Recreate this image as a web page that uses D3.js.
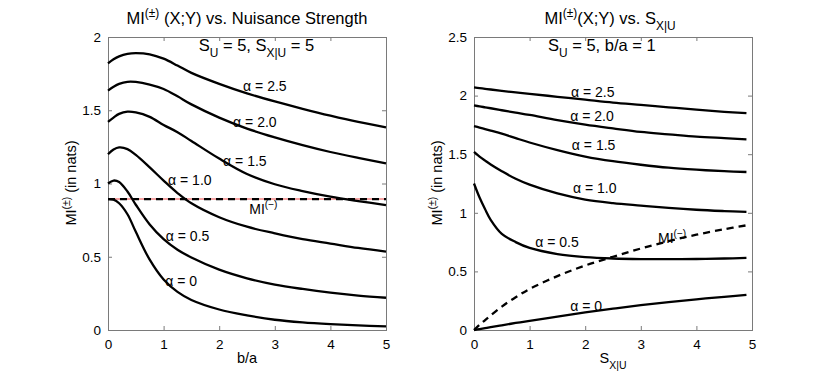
<!DOCTYPE html>
<html>
<head>
<meta charset="utf-8">
<script src="https://cdn.jsdelivr.net/npm/d3@7"></script>
<style>
  body { margin: 0; background: #fff; }
  text { font-family: "Liberation Sans", Arial, Helvetica, sans-serif; fill: #000; }
</style>
</head>
<body>
<div id="chart"></div>
<script>
// ---- left panel: MI(+-) against b/a (S_U = 5, S_X|U = 5)
var baRatio = [0, 0.1, 0.2, 0.35, 0.5, 0.75, 1, 1.25, 1.5, 2, 2.5, 3, 3.5, 4, 4.5, 5];
var leftA25 = [1.82, 1.848, 1.868, 1.885, 1.89, 1.882, 1.852, 1.805, 1.755, 1.68, 1.615, 1.56, 1.51, 1.463, 1.42, 1.383];
var leftA20 = [1.634, 1.66, 1.68, 1.694, 1.693, 1.675, 1.645, 1.595, 1.54, 1.45, 1.375, 1.315, 1.262, 1.215, 1.175, 1.138];
var leftA15 = [1.42, 1.45, 1.475, 1.49, 1.485, 1.455, 1.40, 1.35, 1.29, 1.17, 1.065, 0.995, 0.948, 0.91, 0.88, 0.853];
var leftA10 = [1.20, 1.232, 1.246, 1.235, 1.195, 1.11, 1.02, 0.935, 0.865, 0.77, 0.705, 0.66, 0.62, 0.59, 0.56, 0.535];
var leftA05 = [1.0, 1.02, 1.01, 0.945, 0.855, 0.72, 0.62, 0.548, 0.495, 0.412, 0.353, 0.31, 0.28, 0.255, 0.235, 0.22];
var leftA00 = [0.894, 0.89, 0.865, 0.79, 0.67, 0.48, 0.345, 0.26, 0.205, 0.14, 0.1, 0.07, 0.052, 0.04, 0.031, 0.025];
var leftMinusX = [0, 5];
var leftMinus = [0.894, 0.894];

// ---- right panel: MI(+-) against S_X|U (S_U = 5, b/a = 1)
var sxu = [0, 0.1, 0.2, 0.3, 0.5, 0.75, 1, 1.5, 2, 2.5, 3, 3.5, 4, 4.5, 4.9];
var rightA25 = [2.07, 2.064, 2.058, 2.052, 2.04, 2.027, 2.015, 1.99, 1.965, 1.94, 1.92, 1.9, 1.88, 1.862, 1.85];
var rightA20 = [1.917, 1.908, 1.9, 1.892, 1.875, 1.855, 1.835, 1.79, 1.752, 1.72, 1.69, 1.67, 1.65, 1.637, 1.627];
var rightA15 = [1.74, 1.727, 1.714, 1.701, 1.675, 1.637, 1.6, 1.535, 1.48, 1.44, 1.41, 1.385, 1.368, 1.355, 1.348];
var rightA10 = [1.52, 1.48, 1.445, 1.412, 1.355, 1.29, 1.24, 1.165, 1.113, 1.083, 1.062, 1.042, 1.026, 1.015, 1.008];
var rightA05 = [1.25, 1.13, 1.03, 0.94, 0.82, 0.75, 0.70, 0.648, 0.622, 0.61, 0.605, 0.604, 0.606, 0.61, 0.615];
var rightA00 = [0, 0.008, 0.016, 0.024, 0.04, 0.06, 0.078, 0.115, 0.15, 0.182, 0.212, 0.238, 0.262, 0.283, 0.30];
var rightMinus = [0, 0.045, 0.085, 0.125, 0.2, 0.28, 0.35, 0.46, 0.55, 0.625, 0.695, 0.758, 0.813, 0.86, 0.893];

// tick values
var xTicks = [0, 1, 2, 3, 4, 5];
var leftYTicks = [0, 0.5, 1, 1.5, 2];
var rightYTicks = [0, 0.5, 1, 1.5, 2, 2.5];

var W = 830, H = 372;
var svg = d3.select("#chart").append("svg")
    .attr("width", W)
    .attr("height", H);

// write text with super / subscripts, parts = [{t, sup|sub}]
function rich(sel, parts, size) {
  var shift = 0;
  parts.forEach(function(p) {
    var target = p.sup ? -size * 0.42 : (p.sub ? size * 0.38 : 0);
    sel.append("tspan")
        .attr("dy", target - shift)
        .attr("font-size", (p.sup || p.sub) ? size * 0.72 : size)
        .text(p.t);
    shift = target;
  });
  return sel;
}

function drawPanel(opt) {
  var x = d3.scaleLinear().domain([0, 5]).range(opt.xr);
  var y = d3.scaleLinear().domain([0, opt.ymax]).range([330, 37]);
  var g = svg.append("g");

  // axes, ticks pointing inside on all four sides
  var fmt = d3.format("~g");
  g.append("g").attr("transform", "translate(0,330)")
      .call(d3.axisBottom(x).tickValues(xTicks).tickSize(-4).tickPadding(9).tickFormat(fmt));
  g.append("g").attr("transform", "translate(0,37)")
      .call(d3.axisTop(x).tickValues(xTicks).tickSize(-4).tickFormat(""));
  g.append("g").attr("transform", "translate(" + opt.xr[0] + ",0)")
      .call(d3.axisLeft(y).tickValues(opt.yTicks).tickSize(-4).tickPadding(7).tickFormat(fmt));
  g.append("g").attr("transform", "translate(" + opt.xr[1] + ",0)")
      .call(d3.axisRight(y).tickValues(opt.yTicks).tickSize(-4).tickFormat(""));
  g.selectAll(".domain").remove();
  g.selectAll(".tick line").attr("stroke", "#7a7a7a");
  g.selectAll(".tick text").attr("font-size", 13.5).attr("fill", "#000")
      .style("font-family", "'Liberation Sans', Arial, sans-serif");

  g.append("rect")
      .attr("x", x(0) + 0.5).attr("y", y(opt.ymax) + 0.5)
      .attr("width", x(5) - x(0)).attr("height", y(0) - y(opt.ymax))
      .attr("fill", "none").attr("stroke", "#7a7a7a").attr("stroke-width", 1);

  var line = d3.line()
      .x(function(d) { return x(d[0]); })
      .y(function(d) { return y(d[1]); })
      .curve(d3.curveCatmullRom.alpha(0.5));

  if (opt.pink) {
    g.append("path")
        .datum(d3.zip(opt.minusX, opt.minus))
        .attr("d", line).attr("fill", "none")
        .attr("stroke", "#f4a3a3").attr("stroke-width", 2);
  }
  opt.series.forEach(function(s) {
    g.append("path")
        .datum(d3.zip(opt.xs, s))
        .attr("d", line).attr("fill", "none")
        .attr("stroke", "#000").attr("stroke-width", 2.3);
  });
  g.append("path")
      .datum(d3.zip(opt.minusX, opt.minus))
      .attr("d", line).attr("fill", "none")
      .attr("stroke", "#000").attr("stroke-width", 2.3)
      .attr("stroke-dasharray", "7,5");

  // curve labels
  opt.labels.forEach(function(l) {
    var t = g.append("text").attr("x", x(l[0])).attr("y", y(l[1])).attr("font-size", 14);
    if (l[2] === "minus") rich(t, [{t: "MI"}, {t: "(\u2212)", sup: true}], 14);
    else t.text("\u03b1 = " + l[2]);
  });

  // parameter note
  rich(g.append("text").attr("x", x(opt.note[0])).attr("y", y(opt.note[1]))
      .attr("text-anchor", "middle").attr("font-size", 16.5), opt.noteParts, 16.5);

  // title
  rich(g.append("text").attr("x", (opt.xr[0] + opt.xr[1]) / 2 + opt.titleDx).attr("y", 24)
      .attr("text-anchor", "middle").attr("font-size", 16.5), opt.titleParts, 16.5);

  // axis labels
  rich(g.append("text").attr("x", (opt.xr[0] + opt.xr[1]) / 2).attr("y", 363)
      .attr("text-anchor", "middle").attr("font-size", 14.5), opt.xLabel, 14.5);
  rich(g.append("text")
      .attr("transform", "translate(" + (opt.xr[0] - 32) + ",183) rotate(-90)")
      .attr("text-anchor", "middle").attr("font-size", 14.5),
      [{t: "MI"}, {t: "(\u00b1)", sup: true}, {t: " (in nats)"}], 14.5);
}

drawPanel({
  xr: [108, 386], ymax: 2, yTicks: leftYTicks,
  xs: baRatio,
  series: [leftA25, leftA20, leftA15, leftA10, leftA05, leftA00],
  minusX: leftMinusX, minus: leftMinus, pink: true,
  labels: [[2.43, 1.63, "2.5"], [2.25, 1.386, "2.0"], [2.07, 1.12, "1.5"],
           [1.08, 0.99, "1.0"], [1.04, 0.607, "0.5"], [1.03, 0.30, "0"], [2.54, 0.79, "minus"]],
  note: [2.67, 1.905],
  noteParts: [{t: "S"}, {t: "U", sub: true}, {t: " = 5, S"}, {t: "X|U", sub: true}, {t: " = 5"}],
  titleDx: 0,
  titleParts: [{t: "MI"}, {t: "(\u00b1)", sup: true}, {t: " (X;Y) vs. Nuisance Strength"}],
  xLabel: [{t: "b/a"}]
});

drawPanel({
  xr: [474, 752], ymax: 2.5, yTicks: rightYTicks,
  xs: sxu,
  series: [rightA25, rightA20, rightA15, rightA10, rightA05, rightA00],
  minusX: sxu, minus: rightMinus, pink: false,
  labels: [[1.745, 1.99, "2.5"], [1.73, 1.78, "2.0"], [1.76, 1.536, "1.5"],
           [1.78, 1.17, "1.0"], [1.1, 0.708, "0.5"], [1.73, 0.162, "0"], [3.31, 0.745, "minus"]],
  note: [2.3, 2.38],
  noteParts: [{t: "S"}, {t: "U", sub: true}, {t: " = 5, b/a = 1"}],
  titleDx: -3,
  titleParts: [{t: "MI"}, {t: "(\u00b1)", sup: true}, {t: "(X;Y) vs. S"}, {t: "X|U", sub: true}],
  xLabel: [{t: "S"}, {t: "X|U", sub: true}]
});
</script>
</body>
</html>
